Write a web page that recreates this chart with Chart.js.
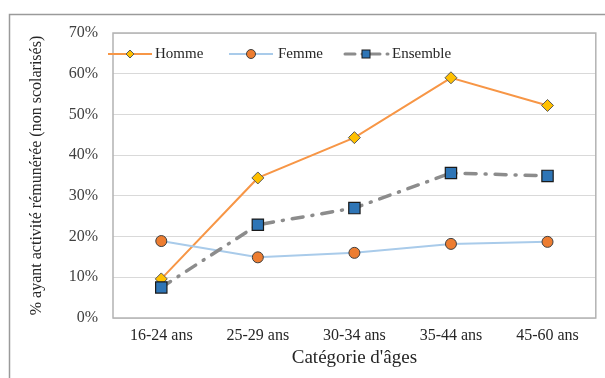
<!DOCTYPE html>
<html>
<head>
<meta charset="utf-8">
<script src="https://cdn.jsdelivr.net/npm/chart.js@4"></script>
<style>
    html, body { margin: 0; padding: 0; background: #ffffff; }
    #wrap { width: 605px; height: 378px; position: relative; }
</style>
</head>
<body>
<div id="wrap"><canvas id="ageChart" width="605" height="378"></canvas></div>
<script>
// Data
const categories = ['16-24 ans', '25-29 ans', '30-34 ans', '35-44 ans', '45-60 ans'];
const homme = [9.6, 34.4, 44.3, 59.0, 52.2];
const femme = [18.9, 14.9, 16.0, 18.2, 18.7];
const ensemble = [7.5, 22.9, 27.0, 35.6, 34.9];
const yTicks = [0, 10, 20, 30, 40, 50, 60, 70];

const serif = "'Liberation Serif', 'Times New Roman', serif";

const colors = {
    homme: '#F79646',
    hommePoint: '#FFC000',
    femme: '#A9CBEA',
    femmePoint: '#ED7D31',
    ensemble: '#8C8C8C',
    ensemblePoint: '#2E75B6'
};

// Outer frame + plot border
const framePlugin = {
    id: 'frame',
    beforeDraw(chart) {
        const ctx = chart.ctx;
        ctx.save();
        ctx.strokeStyle = '#9A9A9A';
        ctx.lineWidth = 1.5;
        ctx.strokeRect(9.5, 14.5, 620, 400);
        ctx.restore();
    },
    afterDraw(chart) {
        const a = chart.chartArea;
        const ctx = chart.ctx;
        ctx.save();
        ctx.strokeStyle = '#B3B3B3';
        ctx.lineWidth = 1.5;
        ctx.strokeRect(a.left, a.top, a.right - a.left, a.bottom - a.top);
        ctx.restore();
    }
};

// Legend drawn inside the plot, line + marker like the original
const legendPlugin = {
    id: 'inLegend',
    afterDraw(chart) {
        const ctx = chart.ctx;
        const y = 54;
        ctx.save();
        ctx.font = '15px ' + serif;
        ctx.fillStyle = '#262626';
        ctx.textBaseline = 'middle';

        // Homme
        ctx.strokeStyle = colors.homme;
        ctx.lineWidth = 2;
        ctx.beginPath(); ctx.moveTo(108, y); ctx.lineTo(152, y); ctx.stroke();
        ctx.beginPath();
        ctx.moveTo(130, y - 4); ctx.lineTo(134, y); ctx.lineTo(130, y + 4); ctx.lineTo(126, y); ctx.closePath();
        ctx.fillStyle = colors.hommePoint; ctx.fill();
        ctx.strokeStyle = '#595959'; ctx.lineWidth = 1; ctx.stroke();
        ctx.fillStyle = '#262626';
        ctx.fillText('Homme', 155, y);

        // Femme
        ctx.strokeStyle = colors.femme;
        ctx.lineWidth = 2;
        ctx.beginPath(); ctx.moveTo(229, y); ctx.lineTo(273, y); ctx.stroke();
        ctx.beginPath(); ctx.arc(251, y, 4.5, 0, Math.PI * 2);
        ctx.fillStyle = colors.femmePoint; ctx.fill();
        ctx.strokeStyle = '#404040'; ctx.lineWidth = 1; ctx.stroke();
        ctx.fillStyle = '#262626';
        ctx.fillText('Femme', 278, y);

        // Ensemble
        ctx.strokeStyle = colors.ensemble;
        ctx.lineWidth = 3;
        ctx.lineCap = 'round';
        ctx.setLineDash([10, 7, 1, 7]);
        ctx.beginPath(); ctx.moveTo(345, y); ctx.lineTo(388, y); ctx.stroke();
        ctx.setLineDash([]);
        ctx.fillStyle = colors.ensemblePoint;
        ctx.fillRect(362, y - 4, 8, 8);
        ctx.strokeStyle = '#1a1a1a'; ctx.lineWidth = 1;
        ctx.strokeRect(362, y - 4, 8, 8);
        ctx.fillStyle = '#262626';
        ctx.fillText('Ensemble', 392, y);
        ctx.restore();
    }
};

function createAgeChart() {
    const ctx = document.getElementById('ageChart').getContext('2d');

    new Chart(ctx, {
        type: 'line',
        data: {
            labels: categories,
            datasets: [
                {
                    label: 'Homme',
                    data: homme,
                    borderColor: colors.homme,
                    borderWidth: 2,
                    pointStyle: 'rectRot',
                    pointRadius: 6,
                    pointBackgroundColor: colors.hommePoint,
                    pointBorderColor: '#595959',
                    pointBorderWidth: 1,
                    tension: 0,
                    order: 2
                },
                {
                    label: 'Femme',
                    data: femme,
                    borderColor: colors.femme,
                    borderWidth: 2,
                    pointStyle: 'circle',
                    pointRadius: 5.5,
                    pointBackgroundColor: colors.femmePoint,
                    pointBorderColor: '#404040',
                    pointBorderWidth: 1,
                    tension: 0,
                    order: 1
                },
                {
                    label: 'Ensemble',
                    data: ensemble,
                    borderColor: colors.ensemble,
                    borderWidth: 3.5,
                    borderDash: [11, 9, 1, 9],
                    borderCapStyle: 'round',
                    pointStyle: 'rect',
                    pointRadius: 8,
                    pointBackgroundColor: colors.ensemblePoint,
                    pointBorderColor: '#1a1a1a',
                    pointBorderWidth: 1.2,
                    tension: 0,
                    order: 0
                }
            ]
        },
        options: {
            responsive: false,
            animation: false,
            layout: {
                padding: { top: 33, right: 9, bottom: 0, left: 0 }
            },
            scales: {
                x: {
                    offset: true,
                    grid: { display: false, drawTicks: false },
                    border: { display: false },
                    ticks: {
                        padding: 8,
                        color: '#262626',
                        font: { family: serif, size: 16 }
                    },
                    title: {
                        display: true,
                        text: "Catégorie d'âges",
                        color: '#262626',
                        font: { family: serif, size: 19 },
                        padding: { top: 0, bottom: 9 }
                    },
                    afterFit(scale) { scale.height = 60; }
                },
                y: {
                    min: 0,
                    max: 70,
                    afterBuildTicks(scale) {
                        scale.ticks = yTicks.map(v => ({ value: v }));
                    },
                    grid: { color: '#D9D9D9', lineWidth: 1, drawTicks: false },
                    border: { display: false },
                    ticks: {
                        padding: 15,
                        color: '#404040',
                        font: { family: serif, size: 16 },
                        callback: function(value) {
                            return value + '%';
                        }
                    },
                    title: {
                        display: true,
                        text: '% ayant activité rémunérée (non scolarisés)',
                        color: '#262626',
                        font: { family: serif, size: 16 },
                        padding: { top: 27, bottom: 0 }
                    },
                    afterFit(scale) { scale.width = 113; }
                }
            },
            plugins: {
                legend: { display: false },
                tooltip: { enabled: false }
            }
        },
        plugins: [framePlugin, legendPlugin]
    });
}

createAgeChart();
</script>
</body>
</html>
